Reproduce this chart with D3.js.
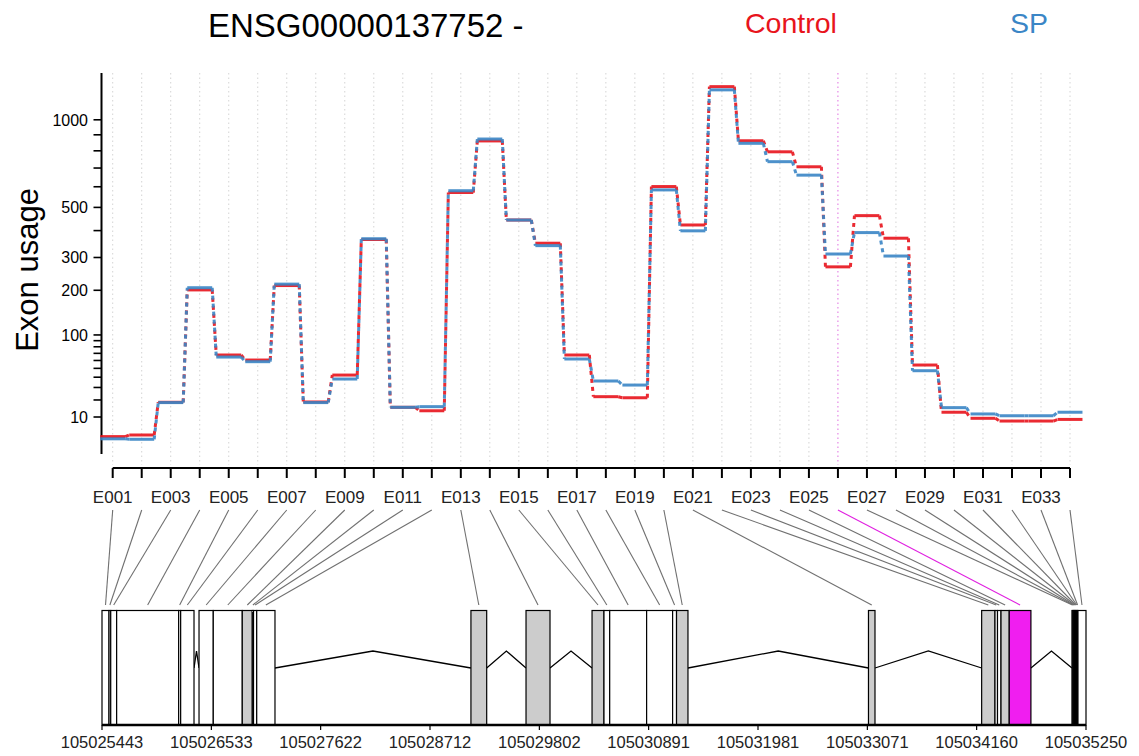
<!DOCTYPE html>
<html>
<head>
<meta charset="utf-8">
<script src="https://cdn.jsdelivr.net/npm/d3@7"></script>
<style>
  body { margin: 0; background: #fff; }
  svg { display: block; font-family: "Liberation Sans", Arial, sans-serif; }
</style>
</head>
<body>
<div id="chart--wrap"></div>
<script>
// exon bins
const exonIds = ['E001','E002','E003','E004','E005','E006','E007','E008','E009','E010',
  'E011','E012','E013','E014','E015','E016','E017','E018','E019','E020',
  'E021','E022','E023','E024','E025','E026','E027','E028','E029','E030',
  'E031','E032','E033','E034'];

// fitted exon usage per condition
const controlUsage = [3.1, 3.5, 18.4, 201, 67.6, 60.6, 213, 18.6, 42.3, 365,
  15.2, 13.2, 571, 861, 444, 351, 67.6, 22.4, 21.6, 601,
  423, 1243, 862, 794, 707, 269, 463, 370, 54.1, 12.4,
  9.4, 8.2, 8.2, 8.9];
const spUsage = [2.6, 2.5, 18.2, 207, 64.7, 58.4, 217, 18.2, 38.1, 368,
  15.2, 15.6, 580, 873, 444, 342, 62.0, 36.1, 32.2, 584,
  399, 1218, 846, 736, 661, 312, 392, 305, 47.2, 15.0,
  11.5, 10.6, 10.6, 12.4];

// gene model: exonic part coordinates
const exonStart = [105025443, 105025513, 105025530, 105025589, 105026207, 105026227, 105026410, 105026552, 105026841, 105026941,
  105026953, 105026985, 105029120, 105029669, 105030327, 105030446, 105030503, 105030871, 105031130, 105031169,
  105033082, 105034210, 105034343, 105034368, 105034403, 105034485, 105035110, 105035119, 105035127, 105035136,
  105035144, 105035153, 105035162, 105035170];
const exonEnd = [105025513, 105025530, 105025589, 105026207, 105026227, 105026360, 105026552, 105026841, 105026941, 105026953,
  105026985, 105027167, 105029277, 105029908, 105030446, 105030503, 105030871, 105031130, 105031169, 105031283,
  105033147, 105034343, 105034368, 105034403, 105034485, 105034701, 105035119, 105035127, 105035136, 105035144,
  105035153, 105035162, 105035170, 105035250];
const exonKind = ['w','w','w','w','w','w','w','w','g','w',
  'w','w','g','g','g','w','w','w','w','g',
  'g','g','w','w','g','s','w','w','w','w',
  'w','w','w','w'];

const genomeTicks = [105025443, 105026533, 105027622, 105028712, 105029802,
  105030891, 105031981, 105033071, 105034160, 105035250];
const yMajor = [10, 100, 200, 300, 500, 1000];
const yMinor = [20, 30, 40, 50, 60, 70, 80, 90, 400, 600, 700, 800, 900];

const geneName = 'ENSG00000137752 -';
const conditions = ['Control', 'SP'];
const condColors = ['#e8141c', '#3a86c6'];
const kindFill = { w: '#ffffff', g: '#cccccc', s: '#f01ef0' };
const sigColor = '#e020e0';

const W = 1139, H = 756;
const svg = d3.select('#chart--wrap').append('svg')
  .attr('width', W).attr('height', H);
svg.append('rect').attr('width', W).attr('height', H).attr('fill', '#fff');

// Scales
const x = d3.scalePoint().domain(exonIds).range([112.7, 1070]);
const y = d3.scalePow().exponent(0.4186).domain([0, 1000]).range([467.6, 119.8]);
const gx = d3.scaleLinear().domain([genomeTicks[0], genomeTicks[genomeTicks.length - 1]]).range([102, 1086]);
const plotTop = 73, plotBottom = 454, axisX = 101.5, xAxisY = 468;

// Titles
svg.append('text').attr('x', 208).attr('y', 37).attr('font-size', 33).text(geneName);
svg.append('text').attr('x', 745).attr('y', 33).attr('font-size', 28.5).attr('fill', condColors[0]).text(conditions[0]);
svg.append('text').attr('x', 1010).attr('y', 33).attr('font-size', 28.5).attr('fill', condColors[1]).text(conditions[1]);

// Grid lines
svg.append('g').selectAll('line')
  .data(exonIds)
  .enter().append('line')
  .attr('x1', d => x(d)).attr('x2', d => x(d))
  .attr('y1', plotTop).attr('y2', xAxisY - 3)
  .attr('stroke', (d, i) => exonKind[i] === 's' ? '#e070e0' : '#d4d4d4')
  .attr('stroke-width', 1)
  .attr('stroke-dasharray', '1.5,3');

// Y axis
const yAxis = svg.append('g').attr('class', 'y-axis');
yAxis.append('line')
  .attr('x1', axisX).attr('x2', axisX).attr('y1', plotTop).attr('y2', plotBottom)
  .attr('stroke', '#000').attr('stroke-width', 2);
yAxis.selectAll('.tick')
  .data(yMajor.concat(yMinor))
  .enter().append('line')
  .attr('x1', axisX - 8).attr('x2', axisX)
  .attr('y1', d => y(d)).attr('y2', d => y(d))
  .attr('stroke', '#000').attr('stroke-width', 1.6);
yAxis.selectAll('text')
  .data(yMajor)
  .enter().append('text')
  .attr('x', 88).attr('y', d => y(d) + 6)
  .attr('text-anchor', 'end').attr('font-size', 16)
  .text(d => d);
svg.append('text')
  .attr('transform', 'translate(38,270) rotate(-90)')
  .attr('text-anchor', 'middle').attr('font-size', 31)
  .text('Exon usage');

// X axis
const xAxisG = svg.append('g').attr('class', 'x-axis');
xAxisG.append('line')
  .attr('x1', x(exonIds[0])).attr('x2', x(exonIds[exonIds.length - 1]))
  .attr('y1', xAxisY).attr('y2', xAxisY)
  .attr('stroke', '#000').attr('stroke-width', 2);
xAxisG.selectAll('.tick')
  .data(exonIds)
  .enter().append('line')
  .attr('x1', d => x(d)).attr('x2', d => x(d))
  .attr('y1', xAxisY).attr('y2', xAxisY + 10)
  .attr('stroke', '#000').attr('stroke-width', 2);
xAxisG.selectAll('text')
  .data(exonIds.filter((d, i) => i % 2 === 0))
  .enter().append('text')
  .attr('x', d => x(d)).attr('y', 503)
  .attr('text-anchor', 'middle').attr('font-size', 17)
  .attr('fill', '#222')
  .text(d => d);

// Usage step lines
const hw = x.step() * 0.43;
[controlUsage, spUsage].forEach((vals, k) => {
  const g = svg.append('g').attr('opacity', 0.9);
  const pts = vals.map((v, i) => ({ cx: x(exonIds[i]), cy: y(v) }));
  g.selectAll('.seg')
    .data(pts)
    .enter().append('line')
    .attr('x1', d => d.cx - hw).attr('x2', d => d.cx + hw)
    .attr('y1', d => d.cy).attr('y2', d => d.cy)
    .attr('stroke', condColors[k]).attr('stroke-width', 3);
  g.selectAll('.link')
    .data(pts.slice(1))
    .enter().append('line')
    .attr('x1', (d, i) => pts[i].cx + hw).attr('y1', (d, i) => pts[i].cy)
    .attr('x2', d => d.cx - hw).attr('y2', d => d.cy)
    .attr('stroke', condColors[k]).attr('stroke-width', 3)
    .attr('stroke-dasharray', '4,4');
});

// Connectors from exon bins to gene model
svg.append('g').selectAll('line')
  .data(exonIds)
  .enter().append('line')
  .attr('x1', d => x(d)).attr('y1', 510)
  .attr('x2', (d, i) => gx((exonStart[i] + exonEnd[i]) / 2)).attr('y2', 605)
  .attr('stroke', (d, i) => exonKind[i] === 's' ? sigColor : '#707070')
  .attr('stroke-width', 1.1);

// Gene model
const boxTop = 610.5, boxBottom = 725, midY = 668, peakY = 651;
const introns = [];
exonEnd.forEach((e, i) => {
  if (i < exonStart.length - 1 && exonStart[i + 1] > e) introns.push([e, exonStart[i + 1]]);
});
svg.append('g').selectAll('path')
  .data(introns)
  .enter().append('path')
  .attr('d', d => d3.line()([[gx(d[0]), midY], [(gx(d[0]) + gx(d[1])) / 2, peakY], [gx(d[1]), midY]]))
  .attr('fill', 'none').attr('stroke', '#000').attr('stroke-width', 1.3);

svg.append('g').selectAll('rect')
  .data(exonIds)
  .enter().append('rect')
  .attr('x', (d, i) => gx(exonStart[i]))
  .attr('width', (d, i) => gx(exonEnd[i]) - gx(exonStart[i]))
  .attr('y', boxTop).attr('height', boxBottom - boxTop)
  .attr('fill', (d, i) => kindFill[exonKind[i]])
  .attr('stroke', '#000').attr('stroke-width', 1.2);

// Genomic axis
const gAxis = svg.append('g');
gAxis.append('line')
  .attr('x1', gx.range()[0]).attr('x2', gx.range()[1])
  .attr('y1', boxBottom).attr('y2', boxBottom)
  .attr('stroke', '#000').attr('stroke-width', 2.5);
gAxis.selectAll('.tick')
  .data(genomeTicks)
  .enter().append('line')
  .attr('x1', d => gx(d)).attr('x2', d => gx(d))
  .attr('y1', boxBottom).attr('y2', boxBottom + 5)
  .attr('stroke', '#000').attr('stroke-width', 1.2);
gAxis.selectAll('text')
  .data(genomeTicks)
  .enter().append('text')
  .attr('x', d => gx(d)).attr('y', 748)
  .attr('text-anchor', 'middle').attr('font-size', 16.5)
  .attr('fill', '#222')
  .text(d => d);
</script>
</body>
</html>
